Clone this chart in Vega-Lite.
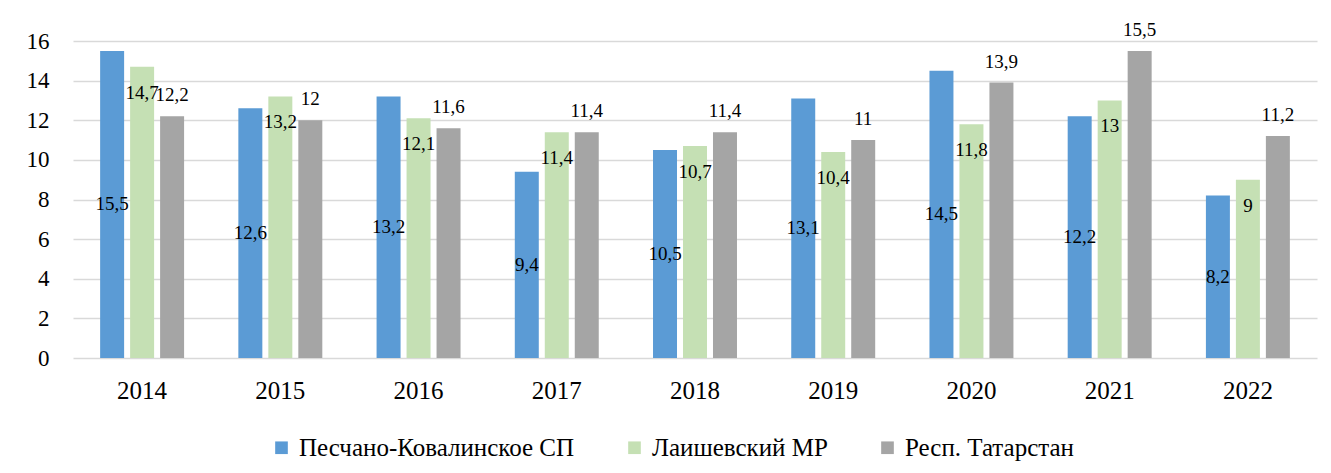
{
  "$schema": "https://vega.github.io/schema/vega-lite/v6.json",
  "width": 1244,
  "height": 317,
  "autosize": {"type": "none"},
  "padding": {"left": 73, "top": 41, "right": 14, "bottom": 115},
  "background": "white",
  "config": {
    "view": {"stroke": null},
    "font": "Liberation Serif",
    "text": {"font": "Liberation Serif"},
    "axis": {"labelFont": "Liberation Serif"},
    "legend": {"labelFont": "Liberation Serif"},
    "locale": {"number": {"decimal": ",", "thousands": " ", "grouping": [3], "currency": ["", ""]}}
  },
  "data": {
    "values": [
      {"year": "2014", "series": "Песчано-Ковалинское СП", "value": 15.5},
      {"year": "2014", "series": "Лаишевский МР", "value": 14.7},
      {"year": "2014", "series": "Респ. Татарстан", "value": 12.2},
      {"year": "2015", "series": "Песчано-Ковалинское СП", "value": 12.6},
      {"year": "2015", "series": "Лаишевский МР", "value": 13.2},
      {"year": "2015", "series": "Респ. Татарстан", "value": 12},
      {"year": "2016", "series": "Песчано-Ковалинское СП", "value": 13.2},
      {"year": "2016", "series": "Лаишевский МР", "value": 12.1},
      {"year": "2016", "series": "Респ. Татарстан", "value": 11.6},
      {"year": "2017", "series": "Песчано-Ковалинское СП", "value": 9.4},
      {"year": "2017", "series": "Лаишевский МР", "value": 11.4},
      {"year": "2017", "series": "Респ. Татарстан", "value": 11.4},
      {"year": "2018", "series": "Песчано-Ковалинское СП", "value": 10.5},
      {"year": "2018", "series": "Лаишевский МР", "value": 10.7},
      {"year": "2018", "series": "Респ. Татарстан", "value": 11.4},
      {"year": "2019", "series": "Песчано-Ковалинское СП", "value": 13.1},
      {"year": "2019", "series": "Лаишевский МР", "value": 10.4},
      {"year": "2019", "series": "Респ. Татарстан", "value": 11},
      {"year": "2020", "series": "Песчано-Ковалинское СП", "value": 14.5},
      {"year": "2020", "series": "Лаишевский МР", "value": 11.8},
      {"year": "2020", "series": "Респ. Татарстан", "value": 13.9},
      {"year": "2021", "series": "Песчано-Ковалинское СП", "value": 12.2},
      {"year": "2021", "series": "Лаишевский МР", "value": 13},
      {"year": "2021", "series": "Респ. Татарстан", "value": 15.5},
      {"year": "2022", "series": "Песчано-Ковалинское СП", "value": 8.2},
      {"year": "2022", "series": "Лаишевский МР", "value": 9},
      {"year": "2022", "series": "Респ. Татарстан", "value": 11.2}
    ]
  },
  "encoding": {
    "x": {
      "field": "year", "type": "nominal",
      "scale": {"paddingInner": 0.36, "paddingOuter": 0.18},
      "axis": {"title": null, "labelAngle": 0, "labelFontSize": 25, "labelColor": "#000000", "domain": false, "ticks": false, "labelPadding": 20}
    },
    "xOffset": {
      "field": "series", "type": "nominal",
      "scale": {"domain": ["Песчано-Ковалинское СП", "Лаишевский МР", "Респ. Татарстан"], "paddingInner": 0.2, "paddingOuter": 0.075}
    }
  },
  "layer": [
    {
      "encoding": {
        "y": {
          "field": "value", "type": "quantitative",
          "scale": {"domain": [0, 16], "nice": false},
          "axis": {"title": null, "orient": "left", "values": [0, 2, 4, 6, 8, 10, 12, 14, 16], "labelOverlap": false, "grid": true, "gridColor": "#d9d9d9", "gridWidth": 1.5, "domain": false, "ticks": false, "labelFont": "Liberation Serif", "labelFontSize": 23, "labelColor": "#000000", "labelPadding": 24}
        }
      },
      "layer": [
        {
          "mark": {"type": "bar"},
          "encoding": {
            "color": {
              "field": "series", "type": "nominal",
              "scale": {"domain": ["Песчано-Ковалинское СП", "Лаишевский МР", "Респ. Татарстан"], "range": ["#5B9BD5", "#C5E0B4", "#A5A5A5"]},
              "legend": {"title": null, "orient": "none", "legendX": 196, "legendY": 394, "direction": "horizontal", "symbolType": "square", "symbolSize": 160, "symbolStrokeWidth": 0, "labelFontSize": 25, "labelColor": "#000000", "labelOffset": 5, "columnPadding": 47, "labelLimit": 500}
            }
          }
        },
        {
          "transform": [{"filter": "datum.series === 'Лаишевский МР'"}],
          "mark": {"type": "text", "baseline": "middle", "align": "center", "fontSize": 19, "color": "#000000", "dy": 26},
          "encoding": {"text": {"field": "value", "type": "quantitative", "format": "~g"}}
        },
        {
          "transform": [{"filter": "datum.series === 'Респ. Татарстан'"}],
          "mark": {"type": "text", "baseline": "middle", "align": "center", "fontSize": 19, "color": "#000000", "dy": -21},
          "encoding": {"text": {"field": "value", "type": "quantitative", "format": "~g"}}
        }
      ]
    },
    {
      "transform": [{"filter": "datum.series === 'Песчано-Ковалинское СП'"}],
      "mark": {"type": "text", "baseline": "middle", "align": "center", "fontSize": 19, "color": "#000000"},
      "encoding": {
        "y": {"field": "value", "type": "quantitative", "scale": {"domain": [0, 32], "nice": false}, "axis": null},
        "text": {"field": "value", "type": "quantitative", "format": "~g"}
      }
    }
  ],
  "resolve": {"scale": {"y": "independent"}, "axis": {"y": "independent"}}
}
